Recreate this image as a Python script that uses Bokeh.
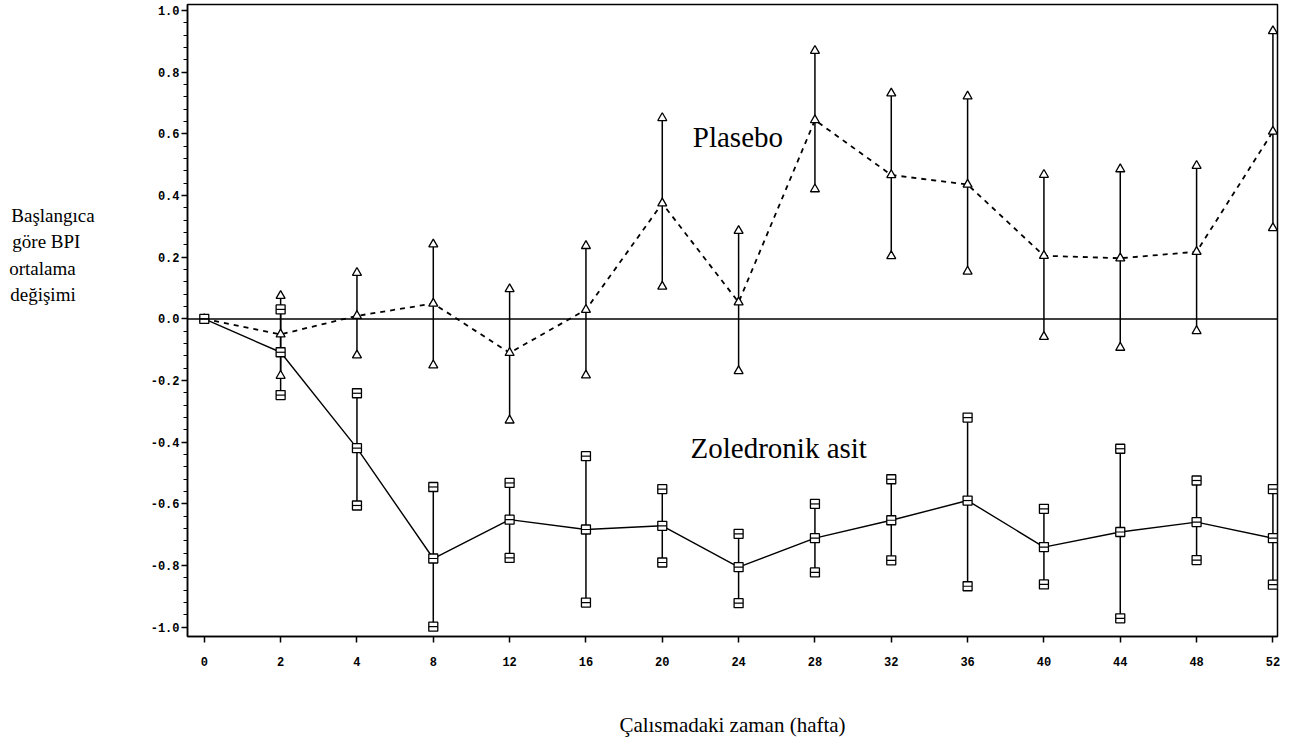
from bokeh.plotting import figure
from bokeh.models import ColumnDataSource, FixedTicker, Span, Label
from bokeh.embed import file_html
from bokeh.resources import INLINE

# ---- data ----
weeks = ["0", "2", "4", "8", "12", "16", "20", "24", "28", "32", "36", "40", "44", "48", "52"]

plasebo_mean = [0.0, -0.05, 0.01, 0.05, -0.11, 0.03, 0.375, 0.054, 0.645, 0.467, 0.436, 0.205, 0.197, 0.218, 0.608]
plasebo_upper = [None, 0.075, 0.15, 0.242, 0.097, 0.237, 0.652, 0.286, 0.870, 0.732, 0.722, 0.468, 0.486, 0.497, 0.934]
plasebo_lower = [None, -0.184, -0.118, -0.15, -0.329, -0.183, 0.105, -0.169, 0.421, 0.204, 0.154, -0.058, -0.093, -0.039, 0.295]

zol_mean = [0.0, -0.108, -0.419, -0.777, -0.651, -0.683, -0.671, -0.805, -0.711, -0.653, -0.589, -0.74, -0.691, -0.659, -0.711]
zol_upper = [None, 0.031, -0.241, -0.545, -0.532, -0.445, -0.552, -0.697, -0.60, -0.52, -0.32, -0.616, -0.421, -0.524, -0.552]
zol_lower = [None, -0.247, -0.605, -0.998, -0.775, -0.92, -0.79, -0.922, -0.822, -0.783, -0.867, -0.861, -0.971, -0.782, -0.862]

y_ticks = [-1.0, -0.8, -0.6, -0.4, -0.2, 0.0, 0.2, 0.4, 0.6, 0.8, 1.0]

series_label_plasebo = "Plasebo"
series_label_zol = "Zoledronik asit"
y_title_lines = ["Başlangıca", "göre BPI", "ortalama", "değişimi"]
x_title = "Çalısmadaki zaman (hafta)"

# ---- build ----
xi = list(range(len(weeks)))
bar_idx = [i for i in xi if plasebo_upper[i] is not None]

src_p = ColumnDataSource(dict(x=xi, y=plasebo_mean))
src_z = ColumnDataSource(dict(x=xi, y=zol_mean))
bars_p = ColumnDataSource(dict(x=[xi[i] for i in bar_idx],
                               lo=[plasebo_lower[i] for i in bar_idx],
                               hi=[plasebo_upper[i] for i in bar_idx]))
bars_z = ColumnDataSource(dict(x=[xi[i] for i in bar_idx],
                               lo=[zol_lower[i] for i in bar_idx],
                               hi=[zol_upper[i] for i in bar_idx]))

p = figure(width=1283, height=739, output_backend="svg", toolbar_location=None,
           x_range=(-0.22, 14.06), y_range=(-1.03, 1.02),
           min_border_left=187, min_border_right=6, min_border_top=4, min_border_bottom=102)

p.background_fill_color = "white"
p.border_fill_color = "white"
p.grid.visible = False
p.outline_line_color = "black"
p.outline_line_width = 1.5

# axes
p.xaxis.ticker = FixedTicker(ticks=xi)
p.xaxis.major_label_overrides = {i: w for i, w in zip(xi, weeks)}
p.yaxis.ticker = FixedTicker(ticks=y_ticks,
                             minor_ticks=[round(-1.0 + 0.04 * k, 2) for k in range(51)])
p.yaxis.major_label_overrides = {t: f"{t:.1f}" for t in y_ticks}

for ax in (p.xaxis[0], p.yaxis[0]):
    ax.axis_line_color = "black"
    ax.axis_line_width = 1.5
    ax.major_tick_line_color = "black"
    ax.major_tick_line_width = 1.5
    ax.major_tick_out = 6
    ax.major_tick_in = 0
    ax.minor_tick_out = 4
    ax.minor_tick_in = 0
    ax.minor_tick_line_color = "black"
    ax.major_label_text_font = "Liberation Mono"
    ax.major_label_text_font_style = "bold"
    ax.major_label_text_font_size = "12px"
    ax.major_label_text_color = "black"
p.xaxis.minor_tick_line_color = None
p.xaxis.major_label_standoff = 14
p.yaxis.major_label_standoff = 2

p.xaxis.axis_label = x_title
p.xaxis.axis_label_text_font = "Liberation Serif"
p.xaxis.axis_label_text_font_style = "normal"
p.xaxis.axis_label_text_font_size = "21px"
p.xaxis.axis_label_text_color = "black"
p.xaxis.axis_label_standoff = 44

# y title: horizontal multi-line label left of the axis.
# Non-breaking spaces pad the shorter lines so the block reads left-aligned;
# blank lines below lift the block above the vertical centre.
pad = {"göre BPI": 3, "ortalama": 4, "değişimi": 4}
padded = [t + "\u00a0" * pad.get(t, 0) for t in y_title_lines]
p.yaxis.axis_label = "\n".join(padded + ["\u00a0"] * 5)
p.yaxis.axis_label_orientation = "horizontal"
p.yaxis.axis_label_text_font = "Liberation Serif"
p.yaxis.axis_label_text_font_style = "normal"
p.yaxis.axis_label_text_font_size = "19px"
p.yaxis.axis_label_text_color = "black"
p.yaxis.axis_label_text_line_height = 1.25
p.yaxis.axis_label_standoff = 53

# zero reference line
p.add_layout(Span(location=0, dimension="width", line_color="black", line_width=1.5))

# error bars
p.segment(x0="x", y0="lo", x1="x", y1="hi", source=bars_p, line_color="black", line_width=1.5)
p.segment(x0="x", y0="lo", x1="x", y1="hi", source=bars_z, line_color="black", line_width=1.5)

# mean lines
p.line("x", "y", source=src_p, line_color="black", line_width=1.8, line_dash="5 5")
p.line("x", "y", source=src_z, line_color="black", line_width=1.4)

# markers: placebo triangles
for col in ("lo", "hi"):
    p.scatter("x", col, source=bars_p, marker="triangle", size=9,
              fill_color="white", line_color="black", line_width=1.3)
p.scatter("x", "y", source=src_p, marker="triangle", size=9,
          fill_color="white", line_color="black", line_width=1.3)

# markers: zoledronic squares with a bar
for col in ("lo", "hi"):
    p.scatter("x", col, source=bars_z, marker="square", size=9,
              fill_color="white", line_color="black", line_width=1.3)
    p.scatter("x", col, source=bars_z, marker="dash", size=9,
              line_color="black", line_width=1.2)
p.scatter("x", "y", source=src_z, marker="square", size=9,
          fill_color="white", line_color="black", line_width=1.3)
p.scatter("x", "y", source=src_z, marker="dash", size=9,
          line_color="black", line_width=1.2)

# series labels
p.add_layout(Label(x=6.4, y=0.59, text=series_label_plasebo, text_font="Liberation Serif",
                   text_font_size="29px", text_baseline="middle", text_align="left",
                   text_color="black"))
p.add_layout(Label(x=6.37, y=-0.42, text=series_label_zol, text_font="Liberation Serif",
                   text_font_size="29px", text_baseline="middle", text_align="left",
                   text_color="black"))

open("out.html", "w").write(file_html(p, INLINE))
